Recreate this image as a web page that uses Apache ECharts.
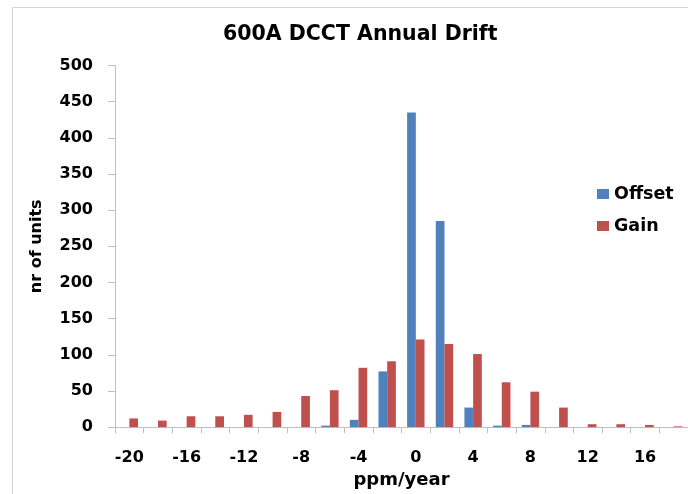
<!DOCTYPE html>
<html><head><meta charset="utf-8">
<script src="https://cdn.jsdelivr.net/npm/echarts@6/dist/echarts.min.js"></script>
<style>html,body{margin:0;padding:0;background:#fff}#c{width:688px;height:494px}</style>
</head><body><div id="c"></div>
<script>
const categories = ['-20','-18','-16','-14','-12','-10','-8','-6','-4','-2','0','2','4','6','8','10','12','14','16','18'];
const offsetValues = [0,0,0,0,0,0,0,2,10,77,435,285,27,2,3,0,0,0,0,0];
const gainValues = [12,9,15,15,17,21,43,51,82,91,121,115,101,62,49,27,4,4,3,1];
const yTicks = {min:0, max:500, interval:50};
const FONT = '"DejaVu Sans", sans-serif';
const chart = echarts.init(document.getElementById('c'));
chart.setOption({
  animation:false,
  backgroundColor:'#fff',
  title:{text:'600A DCCT Annual Drift', left:218, top:19,
    textStyle:{fontFamily:FONT, fontWeight:'bold', fontSize:20.5, color:'#000'}},
  legend:{orient:'vertical', left:592, top:180, itemWidth:12, itemHeight:10, itemGap:14,
    icon:'rect', textStyle:{fontFamily:FONT, fontWeight:'bold', fontSize:17.5, color:'#000'},
    data:['Offset','Gain']},
  graphic:[{type:'polyline', shape:{points:[[12.5,494],[12.5,7.5],[688,7.5]]},
    style:{fill:'none', stroke:'#d4d4d4', lineWidth:1}, silent:true}],
  grid:{left:115, top:65.5, width:584, height:364, containLabel:false},
  xAxis:{type:'category', data:categories, name:'ppm/year', nameLocation:'middle', nameGap:36,
    nameTextStyle:{fontFamily:FONT, fontWeight:'bold', fontSize:18, color:'#000'},
    axisLine:{lineStyle:{color:'#bfbfbf'}},
    axisTick:{show:true, alignWithLabel:false, interval:0, length:6, lineStyle:{color:'#bfbfbf'}},
    axisLabel:{interval:1, margin:23, fontFamily:FONT, fontWeight:'bold', fontSize:16, color:'#000'},
    splitLine:{show:false}},
  yAxis:{type:'value', min:yTicks.min, max:yTicks.max, interval:yTicks.interval,
    name:'nr of units', nameLocation:'middle', nameGap:70,
    nameTextStyle:{fontFamily:FONT, fontWeight:'bold', fontSize:16, color:'#000'},
    axisLine:{show:true, lineStyle:{color:'#bfbfbf'}},
    axisTick:{show:true, length:7, lineStyle:{color:'#bfbfbf'}},
    axisLabel:{margin:22, fontFamily:FONT, fontWeight:'bold', fontSize:16, color:'#000'},
    splitLine:{show:false}},
  series:[
    {name:'Offset', type:'bar', data:offsetValues, barWidth:8.7, barGap:'0%', itemStyle:{color:'#4F81BD'}},
    {name:'Gain', type:'bar', data:gainValues, barWidth:8.7, barGap:'0%', itemStyle:{color:'#C0504D'}}
  ]
});
</script></body></html>
